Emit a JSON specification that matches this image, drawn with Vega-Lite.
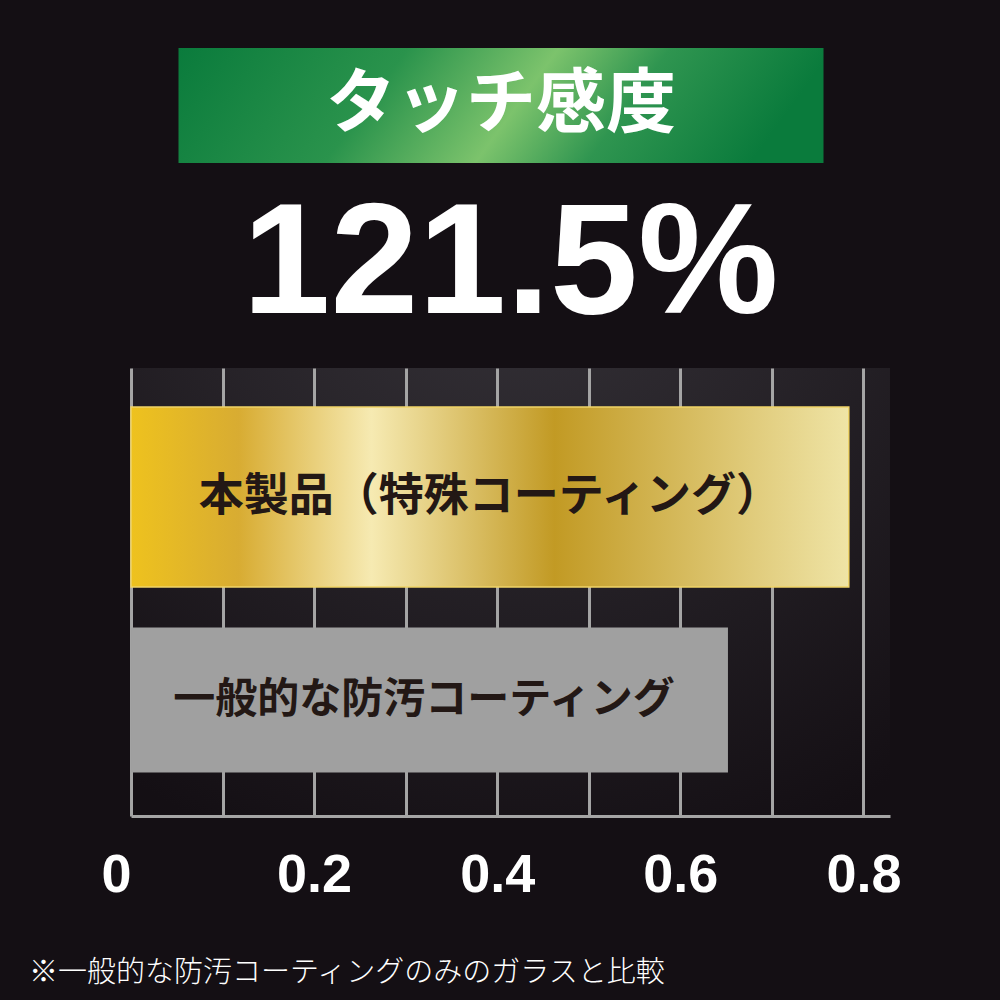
{
  "$schema": "https://vega.github.io/schema/vega-lite/v6.json",
  "background": "#140f14",
  "padding": {"left": 28, "top": 48, "right": 100, "bottom": 12},
  "title": {
    "text": "※一般的な防汚コーティングのみのガラスと比較",
    "orient": "bottom",
    "anchor": "start",
    "dx": -72,
    "offset": 57,
    "font": "Noto Sans CJK JP",
    "fontSize": 29,
    "fontWeight": 300,
    "color": "#ffffff"
  },
  "center": true,
  "spacing": 24,
  "config": {"view": {"stroke": null}},
  "vconcat": [
    {
      "width": 645,
      "height": 115,
      "view": {
        "stroke": null,
        "fill": {
          "gradient": "linear",
          "x1": 0, "y1": 0, "x2": 1, "y2": 0.13,
          "stops": [
            {"offset": 0, "color": "#0a7b3c"},
            {"offset": 0.35, "color": "#2a934c"},
            {"offset": 0.58, "color": "#7cc36c"},
            {"offset": 0.75, "color": "#2f9550"},
            {"offset": 1, "color": "#0a7b3c"}
          ]
        }
      },
      "data": {"values": [{"label": "タッチ感度"}]},
      "mark": {
        "type": "text",
        "font": "Noto Sans CJK JP",
        "fontWeight": "bold",
        "fontSize": 70,
        "color": "#ffffff",
        "align": "center",
        "baseline": "middle"
      },
      "encoding": {
        "text": {"field": "label", "type": "nominal"},
        "y": {
          "datum": "banner",
          "type": "nominal",
          "axis": {
            "orient": "right",
            "labels": false,
            "ticks": false,
            "domain": false,
            "grid": false,
            "title": ".",
            "titleOpacity": 0,
            "titleFontSize": 10,
            "titlePadding": 20
          }
        }
      }
    },
    {
      "width": 759,
      "height": 448,
      "title": {
        "text": "121.5%",
        "font": "Liberation Sans",
        "fontWeight": "bold",
        "fontSize": 158,
        "color": "#ffffff",
        "anchor": "middle",
        "offset": 22
      },
      "view": {
        "stroke": null,
        "fill": {
          "gradient": "radial",
          "x1": 0.5, "y1": 0, "r1": 0,
          "x2": 0.5, "y2": 0, "r2": 0.9,
          "stops": [
            {"offset": 0, "color": "#37343a"},
            {"offset": 1, "color": "#140f14"}
          ]
        }
      },
      "data": {
        "values": [
          {"coating": "本製品（特殊コーティング）", "touch": 0.784},
          {"coating": "一般的な防汚コーティング", "touch": 0.652}
        ]
      },
      "encoding": {
        "y": {
          "field": "coating",
          "type": "nominal",
          "sort": null,
          "scale": {"type": "point", "padding": 0.6034, "align": 0.5265},
          "axis": null
        },
        "x": {
          "field": "touch",
          "type": "quantitative",
          "scale": {"domain": [0, 0.829], "nice": false, "zero": true},
          "axis": {
            "values": [0, 0.1, 0.2, 0.3, 0.4, 0.5, 0.6, 0.7, 0.8],
            "grid": true,
            "gridColor": "#a5a5a5",
            "gridWidth": 3,
            "domain": true,
            "domainColor": "#a5a5a5",
            "domainWidth": 3,
            "ticks": false,
            "labelExpr": "round(datum.value * 10) % 2 === 0 ? format(datum.value, '~g') : ''",
            "labelFont": "Liberation Sans",
            "labelFontWeight": "bold",
            "labelFontSize": 54,
            "labelColor": "#ffffff",
            "labelPadding": 32,
            "labelAlign": {"condition": {"test": "datum.value === 0", "value": "right"}, "value": "center"},
            "labelFlush": false,
            "labelOverlap": false,
            "title": null
          }
        }
      },
      "layer": [
        {
          "transform": [{"filter": "datum.coating === '本製品（特殊コーティング）'"}],
          "mark": {
            "type": "bar",
            "size": 180,
            "stroke": "#f0d467",
            "strokeWidth": 1.5,
            "fill": {
              "gradient": "linear",
              "x1": 0, "y1": 0, "x2": 1, "y2": 0,
              "stops": [
                {"offset": 0, "color": "#eec21e"},
                {"offset": 0.15, "color": "#d8ac32"},
                {"offset": 0.335, "color": "#f6eab2"},
                {"offset": 0.59, "color": "#c29a24"},
                {"offset": 1, "color": "#efe4a6"}
              ]
            }
          }
        },
        {
          "transform": [{"filter": "datum.coating === '一般的な防汚コーティング'"}],
          "mark": {"type": "bar", "size": 145, "fill": "#a0a0a0"}
        },
        {
          "transform": [{"filter": "datum.coating === '本製品（特殊コーティング）'"}],
          "mark": {
            "type": "text",
            "font": "Noto Sans CJK JP",
            "fontWeight": "bold",
            "fontSize": 45,
            "color": "#231815",
            "align": "center",
            "baseline": "middle",
            "dx": -359
          },
          "encoding": {"text": {"field": "coating", "type": "nominal"}}
        },
        {
          "transform": [{"filter": "datum.coating === '一般的な防汚コーティング'"}],
          "mark": {
            "type": "text",
            "font": "Noto Sans CJK JP",
            "fontWeight": "bold",
            "fontSize": 42,
            "color": "#231815",
            "align": "center",
            "baseline": "middle",
            "dx": -304
          },
          "encoding": {"text": {"field": "coating", "type": "nominal"}}
        }
      ]
    }
  ]
}
